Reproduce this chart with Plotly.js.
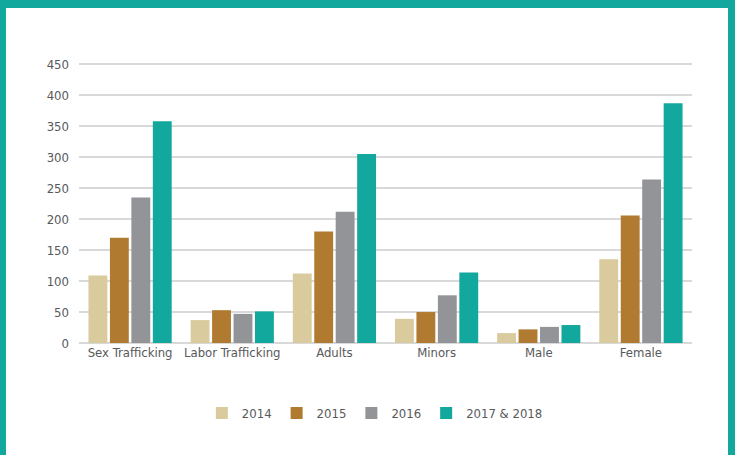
<!DOCTYPE html>
<html><head><meta charset="utf-8">
<script src="https://cdn.plot.ly/plotly-3.0.1.min.js"></script>
<style>
html,body{margin:0;padding:0;background:#fff;}
#wrap{position:relative;width:735px;height:455px;overflow:hidden;}
#chart{position:absolute;left:0;top:0;width:735px;height:455px;}
#chart text{font-stretch:condensed;}
.b{position:absolute;background:#12A89D;}
</style></head>
<body>
<div id="wrap">
<div id="chart"></div>
<div class="b" style="left:0;top:0;width:735px;height:8px;"></div>
<div class="b" style="left:0;top:0;width:6px;height:455px;"></div>
<div class="b" style="left:728px;top:0;width:7px;height:455px;"></div>
</div>
<script>
const categories = ["Sex Trafficking","Labor Trafficking","Adults","Minors","Male","Female"];
const seriesNames = ["2014","2015","2016","2017 & 2018"];
const v2014 = [109, 37, 112, 39, 16, 135];
const v2015 = [170, 53, 180, 50, 22, 206];
const v2016 = [235, 47, 212, 77, 26, 264];
const v2017_18 = [358, 51, 305, 114, 29, 387];
const yTicks = [0,50,100,150,200,250,300,350,400,450];
const colors = ["#D9CB9E","#B07B31","#939497","#12A89D"];
const allVals = [v2014, v2015, v2016, v2017_18];

const traces = allVals.map((vals,i)=>({
  type:"bar", name:seriesNames[i], x:categories, y:vals,
  marker:{color:colors[i]}, hoverinfo:"skip"
}));

const font = {family:"'DejaVu Sans Condensed','DejaVu Sans',sans-serif", size:13, color:"#58595b"};

Plotly.newPlot("chart", traces, {
  width:735, height:455,
  margin:{l:79, r:43, t:63, b:112},
  paper_bgcolor:"#fff", plot_bgcolor:"#fff",
  font:font,
  barmode:"group", bargap:0.16, bargroupgap:0.12,
  showlegend:true,
  legend:{orientation:"h", x:0.51, xanchor:"center", xref:"container", y:0.092, yref:"container", yanchor:"middle", font:font, traceorder:"normal", itemwidth:30},
  xaxis:{type:"category", showgrid:false, showline:false, zeroline:false, ticks:"", tickfont:font, fixedrange:true},
  yaxis:{range:[0,452], tickvals:yTicks, ticktext:yTicks.map(String), showgrid:true, gridcolor:"#d9d9d9", gridwidth:1.5, zeroline:true, zerolinecolor:"#d9d9d9", zerolinewidth:2, showline:false, ticks:"", ticklabelstandoff:9, tickfont:font, fixedrange:true}
}, {displayModeBar:false, staticPlot:true});
</script>
</body></html>
